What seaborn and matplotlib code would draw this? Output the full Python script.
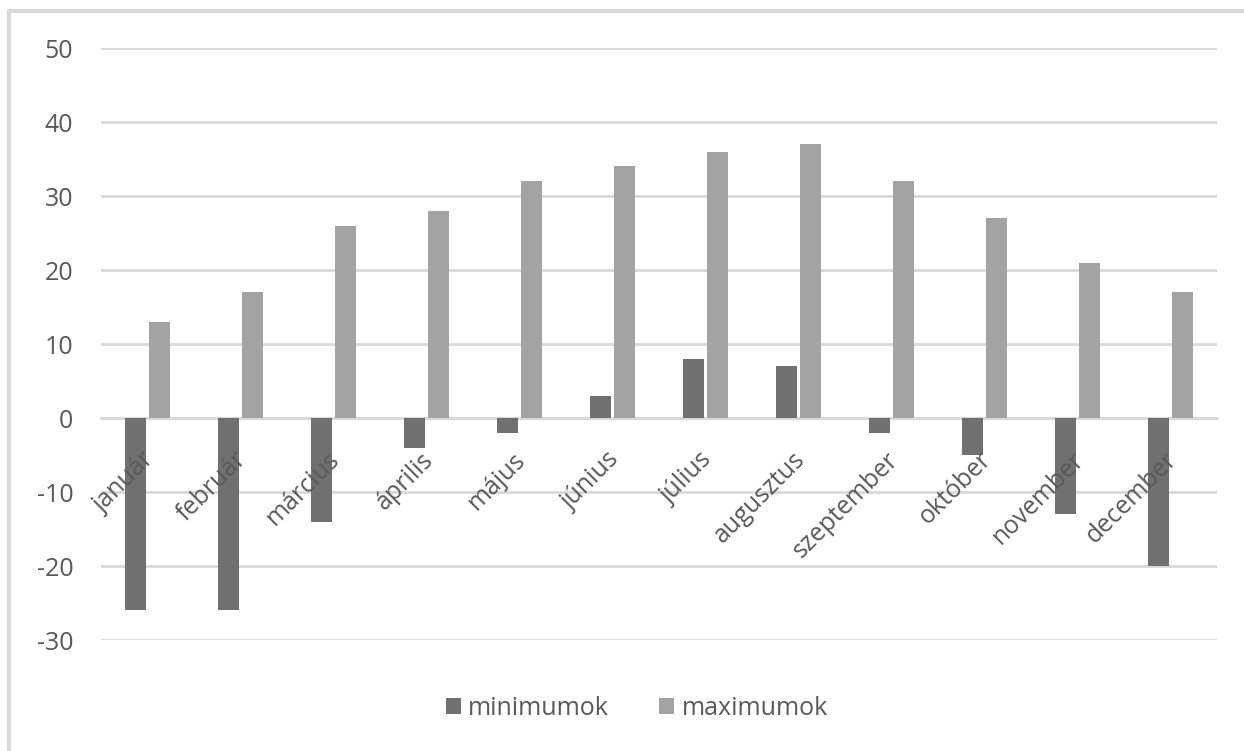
import matplotlib
matplotlib.use("Agg")
import matplotlib.pyplot as plt
import seaborn as sns
import pandas as pd
from matplotlib.lines import Line2D
from matplotlib.transforms import ScaledTranslation

months = ["január", "február", "március", "április", "május", "június",
          "július", "augusztus", "szeptember", "október", "november", "december"]
minimumok = [-26, -26, -14, -4, -2, 3, 8, 7, -2, -5, -13, -20]
maximumok = [13, 17, 26, 28, 32, 34, 36, 37, 32, 27, 21, 17]
series_names = ["minimumok", "maximumok"]
y_ticks = [-30, -20, -10, 0, 10, 20, 30, 40, 50]

df = pd.DataFrame({
    "hónap": months * 2,
    "érték": minimumok + maximumok,
    "sor": [series_names[0]] * len(months) + [series_names[1]] * len(months),
})

sns.set_style("white")
plt.rcParams["font.family"] = ["Open Sans", "DejaVu Sans"]

fig = plt.figure(figsize=(12.44, 7.51), dpi=100)
W, H = 1244, 751
ax = fig.add_axes([101 / W, 1 - 640 / H, (1217 - 101) / W, (640 - 48) / H])

sns.barplot(data=df, x="hónap", y="érték", hue="sor", order=months,
            hue_order=series_names, palette=["#707070", "#a3a3a3"],
            width=0.52, gap=0.12, saturation=1, linewidth=0, ax=ax, legend=True)

ax.set_ylim(-30, 50)
ax.set_yticks(y_ticks)
ax.set_yticklabels([str(v) for v in y_ticks])
ax.yaxis.grid(True, color="#d9d9d9", linewidth=2)
ax.set_axisbelow(True)
ax.xaxis.set_zorder(5)
for s in ["left", "right", "top"]:
    ax.spines[s].set_visible(False)
ax.spines["bottom"].set_position(("data", 0))
ax.spines["bottom"].set_color("#d9d9d9")
ax.spines["bottom"].set_linewidth(2)
ax.spines["bottom"].set_zorder(0.6)
ax.set_xlabel("")
ax.set_ylabel("")
ax.tick_params(axis="y", length=0, pad=20, labelsize=18, labelcolor="#595959")
ax.tick_params(axis="x", length=0, pad=21, labelsize=18, labelcolor="#595959")
ax.set_xticks(range(len(months)))
ax.set_xticklabels(months, rotation=45, ha="right", va="top", rotation_mode="anchor")
shift = ScaledTranslation(-6 / 100, 0, fig.dpi_scale_trans)
for lab in ax.get_xticklabels():
    lab.set_transform(lab.get_transform() + shift)
ax.set_xlim(-0.5, len(months) - 0.5)

leg = ax.legend(loc="center", bbox_to_anchor=(0.512, 0.057),
                bbox_transform=fig.transFigure, ncol=2, frameon=False,
                fontsize=18, handlelength=0.6, handleheight=0.6,
                handletextpad=0.3, columnspacing=2.0)
for t in leg.get_texts():
    t.set_color("#595959")

border_kw = dict(transform=fig.transFigure, color="#d9d9d9", linewidth=3)
fig.add_artist(Line2D([8.5 / W, 1.0], [1 - 10.5 / H, 1 - 10.5 / H], **border_kw))
fig.add_artist(Line2D([8.5 / W, 8.5 / W], [0.0, 1 - 10.5 / H], **border_kw))

fig.savefig("out.png", dpi=100)
